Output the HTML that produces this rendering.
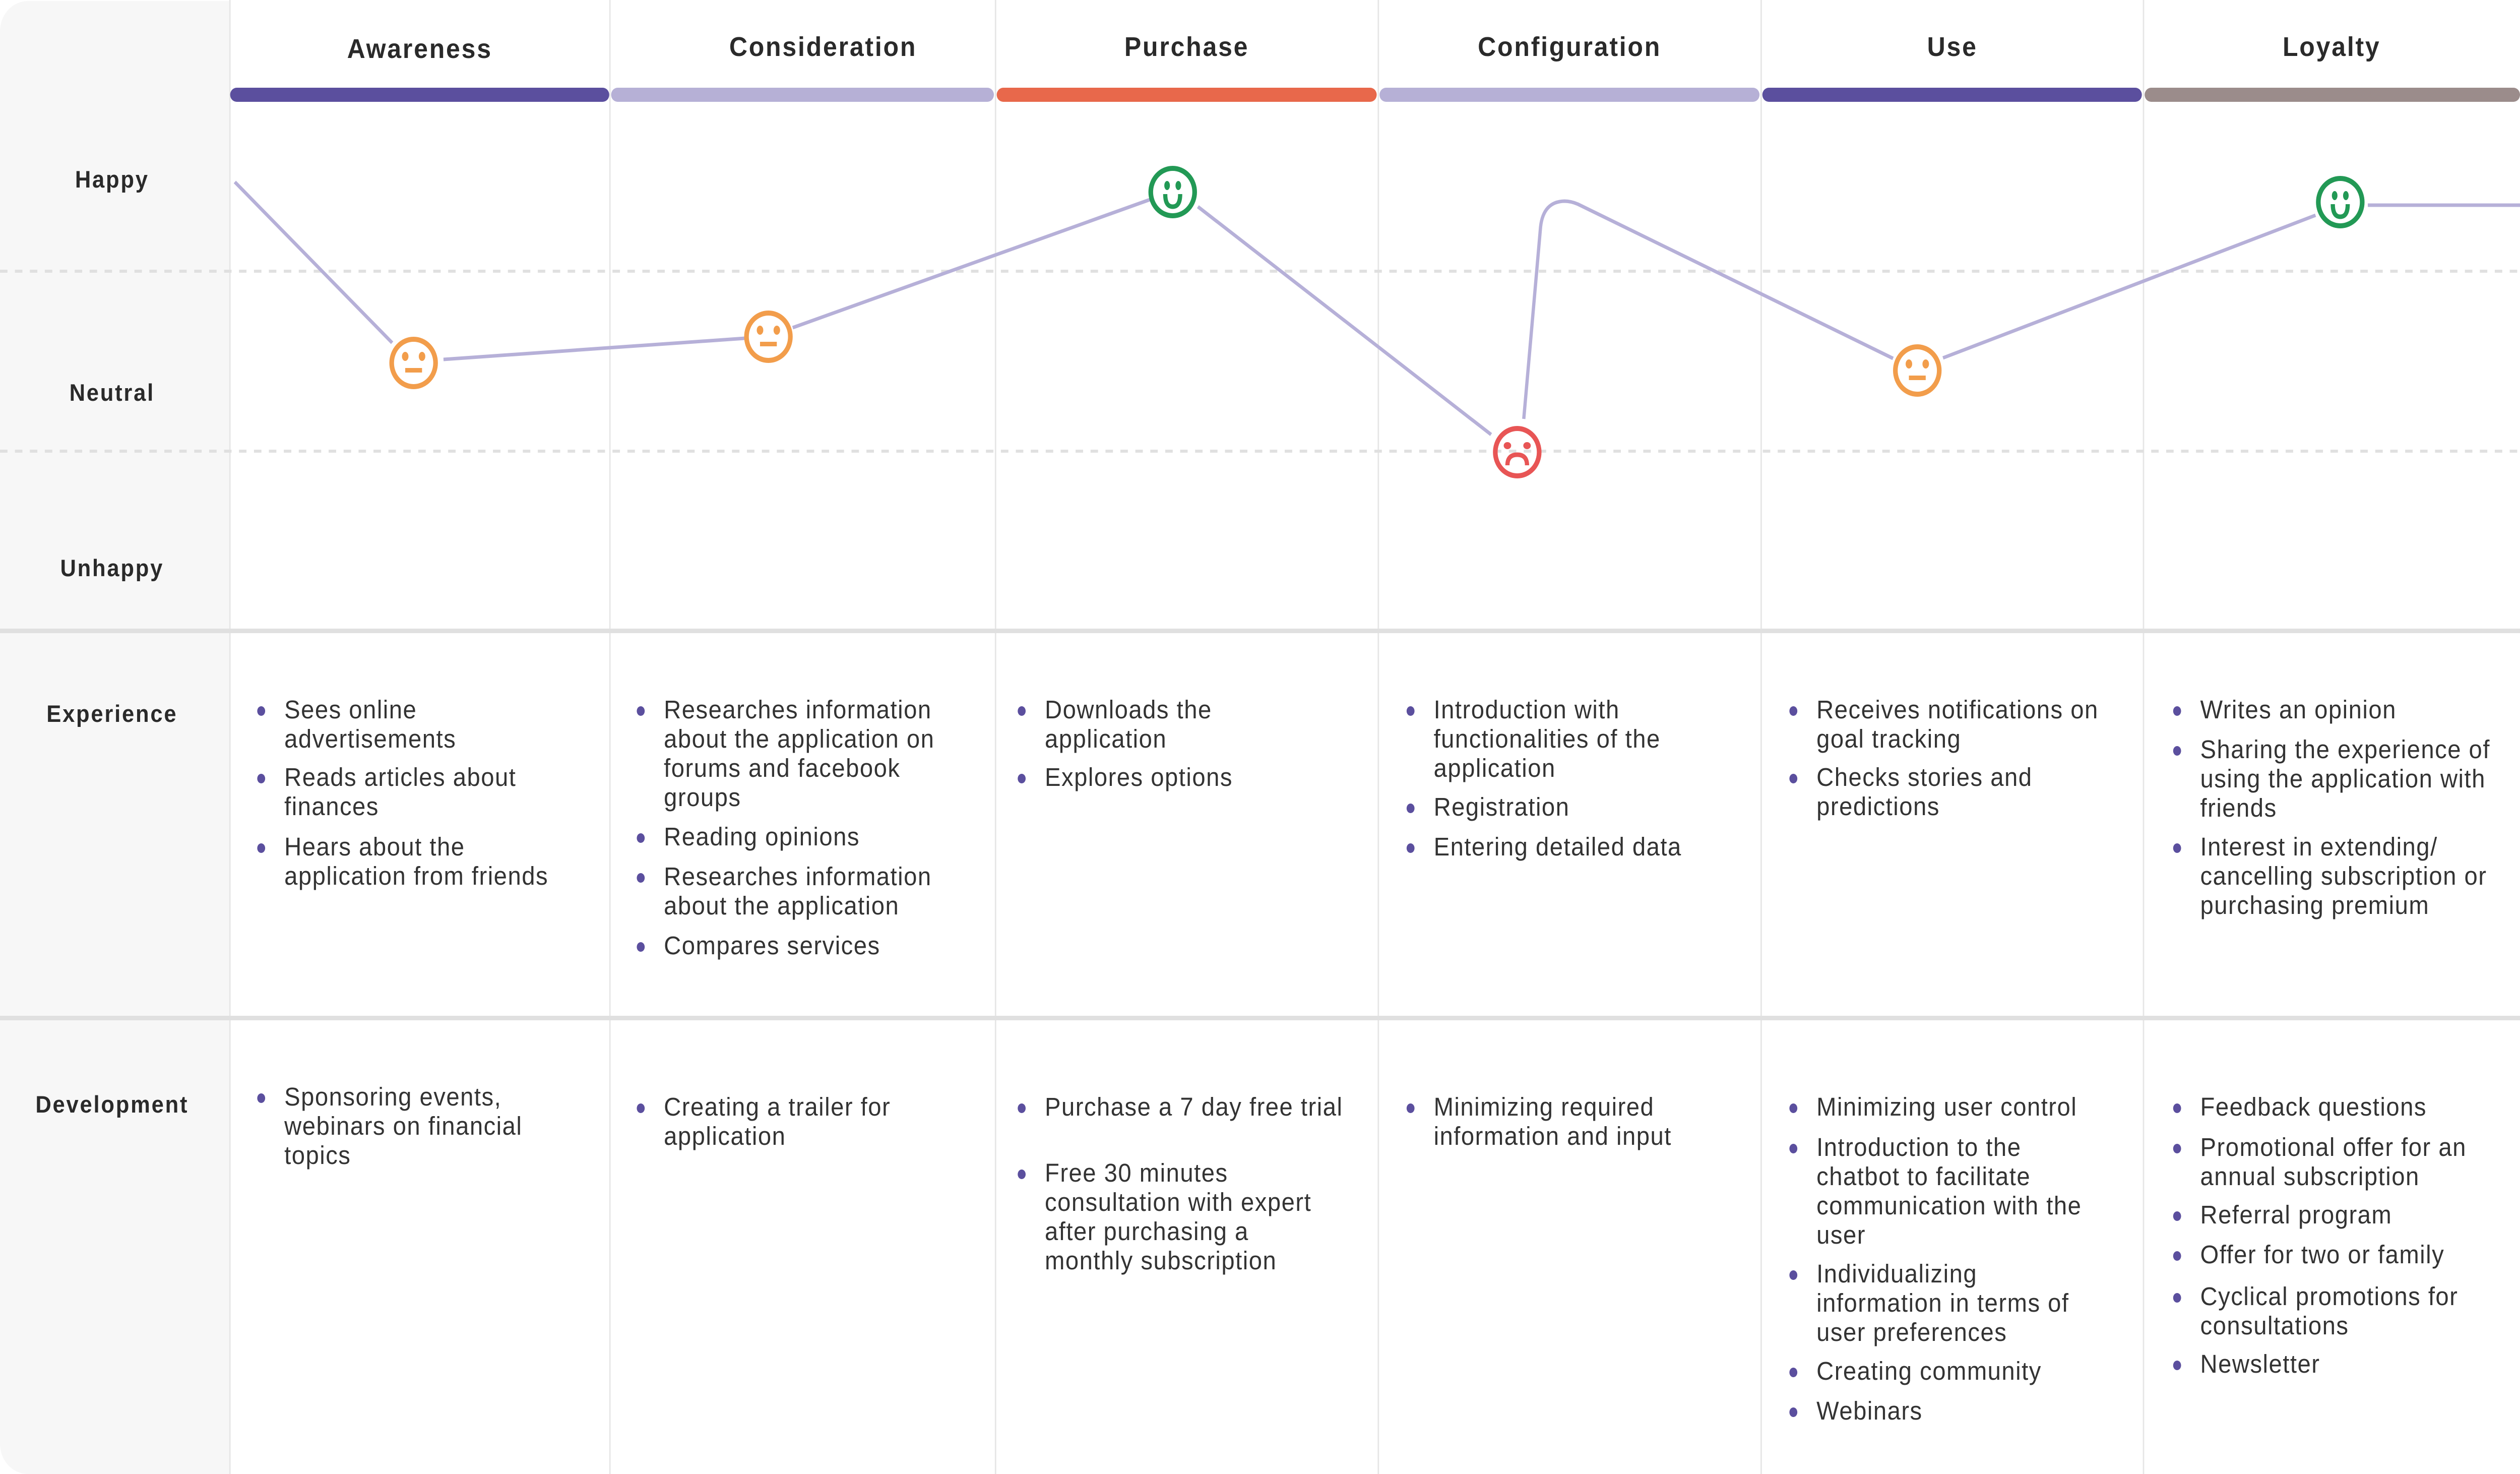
<!DOCTYPE html>
<html><head><meta charset="utf-8">
<style>
html,body{margin:0;padding:0;background:#fff;overflow:hidden;}
#wrap{width:5398px;height:2924px;position:absolute;left:0;top:0;overflow:hidden;font-family:"Liberation Sans",sans-serif;transform-origin:0 0;}
.panel{position:absolute;left:0;top:2px;width:492px;height:2922px;background:#f7f7f7;border-radius:60px 0 0 60px;}
.vd{position:absolute;top:0;width:3px;height:2924px;background:#e6e6e6;}
.hs{position:absolute;left:0;width:5398px;height:9px;background:#e0e0e0;}
.h{position:absolute;top:62px;font-size:54px;font-weight:bold;color:#2a2a2a;text-align:center;letter-spacing:3px;}
.bar{position:absolute;top:174px;height:28px;border-radius:14px;}
.rl{position:absolute;left:0;width:480px;text-align:center;font-size:47px;font-weight:bold;color:#2a2a2a;letter-spacing:3px;}
.it{position:absolute;font-size:51px;letter-spacing:1.6px;line-height:58px;color:#333;white-space:nowrap;}
.it::before{content:"";position:absolute;left:-58px;top:22px;width:17px;height:19px;border-radius:50%;background:#5b4f9e;}
</style></head><body>
<div id="wrap">
<div class="panel"></div>
<div class="vd" style="left:491px"></div>
<div class="vd" style="left:1305px"></div>
<div class="vd" style="left:2131px"></div>
<div class="vd" style="left:2951px"></div>
<div class="vd" style="left:3771px"></div>
<div class="vd" style="left:4590px"></div>
<div class="hs" style="top:1247px"></div>
<div class="hs" style="top:2015px"></div>

<div class="h" style="left:493px;width:812px;top:66px">Awareness</div>
<div class="h" style="left:1306px;width:914px;">Consideration</div>
<div class="h" style="left:2132px;width:820px;">Purchase</div>
<div class="h" style="left:2952px;width:820px;">Configuration</div>
<div class="h" style="left:3772px;width:820px;">Use</div>
<div class="h" style="left:4591px;width:807px;">Loyalty</div>

<div class="bar" style="left:493px;width:812px;background:#5b4f9e"></div>
<div class="bar" style="left:1309px;width:820px;background:#b6b0d6"></div>
<div class="bar" style="left:2135px;width:814px;background:#e8684b"></div>
<div class="bar" style="left:2955px;width:814px;background:#b6b0d6"></div>
<div class="bar" style="left:3775px;width:813px;background:#5b4f9e"></div>
<div class="bar" style="left:4594px;width:804px;background:#9b8c8b"></div>

<div class="rl" style="top:328px">Happy</div>
<div class="rl" style="top:751px">Neutral</div>
<div class="rl" style="top:1099px">Unhappy</div>
<div class="rl" style="top:1388px">Experience</div>
<div class="rl" style="top:2163px">Development</div>

<svg width="5398" height="2924" style="position:absolute;left:0;top:0" xmlns="http://www.w3.org/2000/svg">
<g stroke="#e0e0e0" stroke-width="6" stroke-dasharray="16 16">
<line x1="0" y1="538" x2="5398" y2="538"/>
<line x1="0" y1="895" x2="5398" y2="895"/>
</g>
<g stroke="#b6b0d8" stroke-width="7" fill="none" stroke-linecap="butt">
<line x1="503" y1="361" x2="840" y2="680"/>
<line x1="950" y1="713" x2="1596" y2="671"/>
<line x1="1698" y1="650" x2="2463" y2="396"/>
<line x1="2566" y1="410" x2="3194" y2="862"/>
<path d="M3264 831 L3300 450 Q3306 400 3351 399 Q3365 399 3380 405 L4055 711"/>
<line x1="4162" y1="710" x2="4960" y2="427"/>
<line x1="5072" y1="407" x2="5398" y2="407"/>
</g>
<g fill="none" stroke="#f29d4b" stroke-width="10">
<circle cx="886" cy="720" r="47"/>
<circle cx="1646" cy="668" r="47"/>
<circle cx="4107" cy="735" r="47"/>
</g>
<g fill="#f29d4b">
<ellipse cx="868" cy="707" rx="7" ry="9"/><ellipse cx="904" cy="707" rx="7" ry="9"/><rect x="868" y="730" width="36" height="9"/>
<ellipse cx="1628" cy="655" rx="7" ry="9"/><ellipse cx="1664" cy="655" rx="7" ry="9"/><rect x="1628" y="678" width="36" height="9"/>
<ellipse cx="4089" cy="722" rx="7" ry="9"/><ellipse cx="4125" cy="722" rx="7" ry="9"/><rect x="4089" y="745" width="36" height="9"/>
</g>
<g fill="none" stroke="#229955" stroke-width="10">
<circle cx="2512" cy="381" r="47"/>
<circle cx="5013" cy="401" r="47"/>
<path d="M2496 385 Q2496 410 2512 410 Q2528 410 2528 385" stroke-width="9"/>
<path d="M4997 405 Q4997 430 5013 430 Q5029 430 5029 405" stroke-width="9"/>
</g>
<g fill="#229955">
<ellipse cx="2500" cy="368" rx="6" ry="9"/><ellipse cx="2524" cy="368" rx="6" ry="9"/>
<ellipse cx="5001" cy="388" rx="6" ry="9"/><ellipse cx="5025" cy="388" rx="6" ry="9"/>
</g>
<circle cx="3250" cy="897" r="47" fill="none" stroke="#e85555" stroke-width="10"/>
<g fill="#e85555"><ellipse cx="3229" cy="884" rx="8" ry="7"/><ellipse cx="3271" cy="884" rx="8" ry="7"/></g>
<path d="M3229 923 Q3229 902 3250 902 Q3271 902 3271 923" fill="none" stroke="#e85555" stroke-width="9"/>
</svg>

<div class="it" style="left:609px;top:1379px">Sees online<br>advertisements</div>
<div class="it" style="left:609px;top:1513px">Reads articles about<br>finances</div>
<div class="it" style="left:609px;top:1651px">Hears about the<br>application from friends</div>

<div class="it" style="left:1422px;top:1379px">Researches information<br>about the application on<br>forums and facebook<br>groups</div>
<div class="it" style="left:1422px;top:1631px">Reading opinions</div>
<div class="it" style="left:1422px;top:1710px">Researches information<br>about the application</div>
<div class="it" style="left:1422px;top:1847px">Compares services</div>

<div class="it" style="left:2238px;top:1379px">Downloads the<br>application</div>
<div class="it" style="left:2238px;top:1513px">Explores options</div>

<div class="it" style="left:3071px;top:1379px">Introduction with<br>functionalities of the<br>application</div>
<div class="it" style="left:3071px;top:1572px">Registration</div>
<div class="it" style="left:3071px;top:1651px">Entering detailed data</div>

<div class="it" style="left:3891px;top:1379px">Receives notifications on<br>goal tracking</div>
<div class="it" style="left:3891px;top:1513px">Checks stories and<br>predictions</div>

<div class="it" style="left:4713px;top:1379px">Writes an opinion</div>
<div class="it" style="left:4713px;top:1458px">Sharing the experience of<br>using the application with<br>friends</div>
<div class="it" style="left:4713px;top:1651px">Interest in extending/<br>cancelling subscription or<br>purchasing premium</div>

<div class="it" style="left:609px;top:2147px">Sponsoring events,<br>webinars on financial<br>topics</div>
<div class="it" style="left:1422px;top:2167px">Creating a trailer for<br>application</div>
<div class="it" style="left:2238px;top:2167px">Purchase a 7 day free trial</div>
<div class="it" style="left:2238px;top:2298px">Free 30 minutes<br>consultation with expert<br>after purchasing a<br>monthly subscription</div>
<div class="it" style="left:3071px;top:2167px">Minimizing required<br>information and input</div>

<div class="it" style="left:3891px;top:2167px">Minimizing user control</div>
<div class="it" style="left:3891px;top:2247px">Introduction to the<br>chatbot to facilitate<br>communication with the<br>user</div>
<div class="it" style="left:3891px;top:2498px">Individualizing<br>information in terms of<br>user preferences</div>
<div class="it" style="left:3891px;top:2691px">Creating community</div>
<div class="it" style="left:3891px;top:2770px">Webinars</div>

<div class="it" style="left:4713px;top:2167px">Feedback questions</div>
<div class="it" style="left:4713px;top:2247px">Promotional offer for an<br>annual subscription</div>
<div class="it" style="left:4713px;top:2381px">Referral program</div>
<div class="it" style="left:4713px;top:2460px">Offer for two or family</div>
<div class="it" style="left:4713px;top:2543px">Cyclical promotions for<br>consultations</div>
<div class="it" style="left:4713px;top:2677px">Newsletter</div>
</div>
<script>
(function(){
  var w=window.innerWidth||document.documentElement.clientWidth;
  var h=window.innerHeight||document.documentElement.clientHeight;
  if(w&&h&&(Math.abs(w-5398)>2||Math.abs(h-2924)>2)){
    document.getElementById('wrap').style.transform='scale('+(w/5398)+','+(h/2924)+')';
  }
})();
</script>
</body></html>
